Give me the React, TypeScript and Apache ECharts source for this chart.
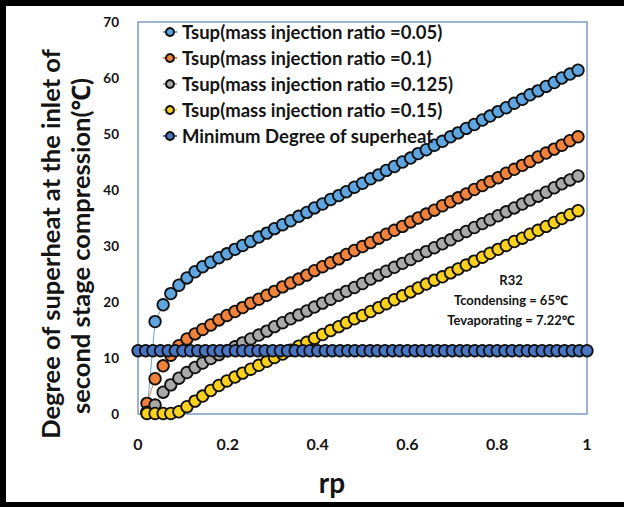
import React, { useEffect, useRef } from "react";
import * as echarts from "echarts";

// rp values of the four Tsup curves
const rp = [
  0.02, 0.038, 0.056, 0.073, 0.091, 0.109, 0.127, 0.144, 0.162, 0.18, 0.198,
  0.216, 0.233, 0.251, 0.269, 0.287, 0.304, 0.322, 0.34, 0.358, 0.376, 0.393,
  0.411, 0.429, 0.447, 0.464, 0.482, 0.5, 0.518, 0.536, 0.553, 0.571, 0.589,
  0.607, 0.624, 0.642, 0.66, 0.678, 0.696, 0.713, 0.731, 0.749, 0.767, 0.784,
  0.802, 0.82, 0.838, 0.856, 0.873, 0.891, 0.909, 0.927, 0.944, 0.962, 0.98,
];

const tsup005 = [
  0.3, 16.5, 19.5, 21.5, 23.0, 24.3, 25.4, 26.3, 27.1, 27.9, 28.6,
  29.4, 30.1, 30.8, 31.6, 32.3, 33.1, 33.8, 34.5, 35.3, 36.0, 36.8,
  37.5, 38.3, 39.0, 39.7, 40.5, 41.2, 42.0, 42.7, 43.5, 44.2, 45.0,
  45.7, 46.5, 47.2, 48.0, 48.7, 49.5, 50.2, 51.0, 51.7, 52.5, 53.2,
  54.0, 54.7, 55.5, 56.2, 57.0, 57.7, 58.5, 59.2, 60.0, 60.7, 61.4,
];

const tsup01 = [
  1.9, 6.3, 8.6, 10.5, 12.2, 13.4, 14.3, 15.1, 15.9, 16.8, 17.6,
  18.3, 19.0, 19.8, 20.5, 21.2, 21.9, 22.7, 23.4, 24.1, 24.8, 25.6,
  26.3, 27.0, 27.7, 28.5, 29.2, 29.9, 30.6, 31.4, 32.1, 32.8, 33.5,
  34.3, 35.0, 35.7, 36.4, 37.2, 37.9, 38.6, 39.3, 40.1, 40.8, 41.5,
  42.2, 43.0, 43.7, 44.4, 45.1, 45.9, 46.6, 47.3, 48.0, 48.8, 49.5,
];

const tsup0125 = [
  0.3, 1.6, 3.9, 5.2, 6.4, 7.4, 8.3, 9.1, 9.9, 10.6, 11.3,
  12.0, 12.7, 13.4, 14.1, 14.8, 15.6, 16.3, 17.0, 17.7, 18.4, 19.1,
  19.8, 20.5, 21.2, 21.9, 22.6, 23.3, 24.1, 24.8, 25.5, 26.2, 26.9,
  27.6, 28.3, 29.0, 29.7, 30.4, 31.1, 31.9, 32.6, 33.3, 34.0, 34.7,
  35.4, 36.1, 36.8, 37.5, 38.2, 38.9, 39.6, 40.4, 41.1, 41.8, 42.5,
];

const tsup015 = [
  0.1, 0.1, 0.1, 0.1, 0.4, 1.3, 2.3, 3.2, 4.2, 5.1, 5.9,
  6.6, 7.3, 8.0, 8.7, 9.4, 10.1, 10.7, 11.4, 12.1, 12.8, 13.5,
  14.2, 14.9, 15.6, 16.3, 17.0, 17.6, 18.3, 19.0, 19.7, 20.4, 21.1,
  21.8, 22.5, 23.2, 23.9, 24.5, 25.2, 25.9, 26.6, 27.3, 28.0, 28.7,
  29.4, 30.1, 30.8, 31.4, 32.1, 32.8, 33.5, 34.2, 34.9, 35.6, 36.3,
];

// rp values of the minimum degree of superheat line
const rpMin = [
  0, 0.017, 0.033, 0.05, 0.067, 0.083, 0.1, 0.117, 0.133, 0.15, 0.167, 0.183,
  0.2, 0.217, 0.233, 0.25, 0.267, 0.283, 0.3, 0.317, 0.333, 0.35, 0.367, 0.383,
  0.4, 0.417, 0.433, 0.45, 0.467, 0.483, 0.5, 0.517, 0.533, 0.55, 0.567, 0.583,
  0.6, 0.617, 0.633, 0.65, 0.667, 0.683, 0.7, 0.717, 0.733, 0.75, 0.767, 0.783,
  0.8, 0.817, 0.833, 0.85, 0.867, 0.883, 0.9, 0.917, 0.933, 0.95, 0.967, 0.983, 1,
];

const minSuperheat = [
  11.3, 11.3, 11.3, 11.3, 11.3, 11.3, 11.3, 11.3, 11.3, 11.3, 11.3, 11.3,
  11.3, 11.3, 11.3, 11.3, 11.3, 11.3, 11.3, 11.3, 11.3, 11.3, 11.3, 11.3,
  11.3, 11.3, 11.3, 11.3, 11.3, 11.3, 11.3, 11.3, 11.3, 11.3, 11.3, 11.3,
  11.3, 11.3, 11.3, 11.3, 11.3, 11.3, 11.3, 11.3, 11.3, 11.3, 11.3, 11.3,
  11.3, 11.3, 11.3, 11.3, 11.3, 11.3, 11.3, 11.3, 11.3, 11.3, 11.3, 11.3, 11.3,
];

const seriesNames = [
  "Tsup(mass injection ratio =0.05)",
  "Tsup(mass injection ratio =0.1)",
  "Tsup(mass injection ratio =0.125)",
  "Tsup(mass injection ratio =0.15)",
  "Minimum Degree of superheat",
];
const seriesColors = ["#5FA6E0", "#F0823C", "#A9A9A9", "#FAD21E", "#4A74C4"];

const yTitleLines = ["Degree of superheat at the inlet of", "second stage compression(℃)"];
const xTitle = "rp";
const noteLines = ["R32", "Tcondensing = 65℃", "Tevaporating = 7.22℃"];

const FONT = "Lato, 'Noto Sans', 'DejaVu Sans', sans-serif";
const INK = "#141414";

export default function App() {
  const ref = useRef<HTMLDivElement>(null);

  useEffect(() => {
    document.body.style.margin = "0";
    const chart = echarts.init(ref.current!, null, { renderer: "svg" });
    const pair = (xs: number[], ys: number[]) => xs.map((x, i) => [x, ys[i]]);
    const dataSets = [
      pair(rp, tsup005),
      pair(rp, tsup01),
      pair(rp, tsup0125),
      pair(rp, tsup015),
      pair(rpMin, minSuperheat),
    ];

    const option: any = {
      animation: false,
      backgroundColor: "#ffffff",
      grid: {
        left: 138,
        top: 22,
        right: 37,
        bottom: 93,
        show: true,
        borderColor: "#7d9bc2",
        borderWidth: 1.5,
        containLabel: false,
        outerBoundsMode: "none",
      },
      legend: {
        orient: "vertical",
        left: 157,
        top: 17,
        itemWidth: 14,
        itemHeight: 10,
        itemGap: 6,
        textStyle: {
          fontFamily: FONT,
          fontWeight: "bold",
          fontSize: 18.5,
          lineHeight: 20,
          color: INK,
        },
        data: seriesNames,
      },
      xAxis: {
        type: "value",
        min: 0,
        max: 1,
        interval: 0.2,
        axisLine: { show: false },
        axisTick: { show: false },
        splitLine: { show: false },
        axisLabel: {
          margin: 21,
          fontFamily: FONT,
          fontWeight: "bold",
          fontSize: 16,
          color: INK,
        },
      },
      yAxis: {
        type: "value",
        min: 0,
        max: 70,
        interval: 10,
        axisLine: { show: false },
        axisTick: { show: false },
        splitLine: { show: false },
        axisLabel: {
          margin: 19,
          fontFamily: FONT,
          fontWeight: "bold",
          fontSize: 13.5,
          color: INK,
        },
      },
      series: dataSets.map((d, i) => ({
        name: seriesNames[i],
        type: "line",
        data: d,
        symbol: "circle",
        symbolSize: 11.5,
        showAllSymbol: true,
        clip: false,
        itemStyle: { color: seriesColors[i], borderColor: "#121212", borderWidth: 1.8 },
        lineStyle: { color: seriesColors[i], width: 1 },
        emphasis: { disabled: true },
      })),
      graphic: [
        { type: "rect", shape: { x: 0, y: 0, width: 624, height: 6 }, style: { fill: "#000" } },
        { type: "rect", shape: { x: 0, y: 0, width: 6, height: 507 }, style: { fill: "#000" } },
        { type: "rect", shape: { x: 0, y: 502, width: 624, height: 5 }, style: { fill: "#000" } },
        {
          type: "text",
          x: 50,
          y: 244,
          rotation: Math.PI / 2,
          style: {
            text: yTitleLines[0],
            font: `bold 25.5px ${FONT}`,
            fill: INK,
            textAlign: "center",
            textVerticalAlign: "middle",
          },
        },
        {
          type: "text",
          x: 80,
          y: 246,
          rotation: Math.PI / 2,
          style: {
            text: yTitleLines[1],
            font: `bold 25.5px ${FONT}`,
            fill: INK,
            textAlign: "center",
            textVerticalAlign: "middle",
          },
        },
        {
          type: "text",
          x: 332,
          y: 482,
          style: {
            text: xTitle,
            font: `bold 28px ${FONT}`,
            fill: INK,
            textAlign: "center",
            textVerticalAlign: "middle",
          },
        },
        ...noteLines.map((t, i) => ({
          type: "text",
          x: 511,
          y: 280 + i * 20,
          style: {
            text: t,
            font: `bold 13px ${FONT}`,
            fill: INK,
            textAlign: "center",
            textVerticalAlign: "middle",
          },
        })),
      ],
    };

    chart.setOption(option);
    return () => chart.dispose();
  }, []);

  return (
    <div
      ref={ref}
      style={{ position: "absolute", left: 0, top: 0, width: 624, height: 507, background: "#fff" }}
    />
  );
}
